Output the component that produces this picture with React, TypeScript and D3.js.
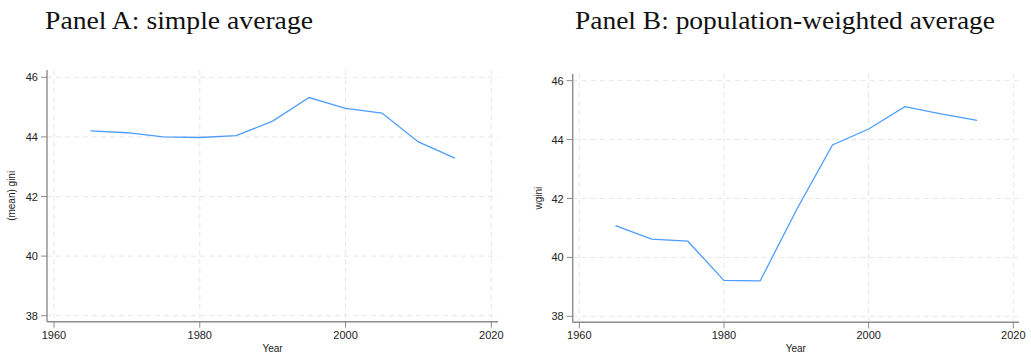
import { useEffect, useRef } from 'react';
import * as d3 from 'd3';

// データ
const years = [1965, 1970, 1975, 1980, 1985, 1990, 1995, 2000, 2005, 2010, 2015];
const meanGini = [44.2, 44.14, 44.0, 43.98, 44.04, 44.53, 45.32, 44.96, 44.8, 43.83, 43.29];
const wGini = [41.08, 40.62, 40.55, 39.22, 39.2, 41.6, 43.82, 44.36, 45.12, 44.87, 44.65];
const xTicks = [1960, 1980, 2000, 2020];
const yTicks = [38, 40, 42, 44, 46];

const panels = [
  {
    title: 'Panel A: simple average', titleX: 45, titleW: 268, titleY: 29,
    ylabel: '(mean) gini', values: meanGini,
    x0: 54, x1: 491.3, y0: 315.7, y1: 77.3, axisX: 47, axisY: 321.7, right: 498, top: 70, ylabX: 15,
  },
  {
    title: 'Panel B: population-weighted average', titleX: 575, titleW: 420, titleY: 29,
    ylabel: 'wgini', values: wGini,
    x0: 579.3, x1: 1013.3, y0: 316.3, y1: 80.7, axisX: 572.7, axisY: 322.3, right: 1019, top: 74, ylabX: 542,
  },
];

export default function App() {
  const svgRef = useRef<SVGSVGElement>(null);

  useEffect(() => {
    const svg = d3.select(svgRef.current).html('');
    const sans = '"Liberation Sans", Arial, sans-serif';

    panels.forEach(p => {
      const x = d3.scaleLinear().domain([1960, 2020]).range([p.x0, p.x1]);
      const y = d3.scaleLinear().domain([38, 46]).range([p.y0, p.y1]);
      const g = svg.append('g');

      // タイトル
      svg.append('text')
        .attr('x', p.titleX).attr('y', p.titleY)
        .attr('textLength', p.titleW).attr('lengthAdjust', 'spacingAndGlyphs')
        .attr('font-family', '"Liberation Serif", "Times New Roman", serif')
        .attr('font-size', 26).attr('fill', '#111')
        .text(p.title);

      // グリッド
      g.selectAll('.hg').data(yTicks).enter().append('line')
        .attr('x1', p.axisX).attr('x2', p.right)
        .attr('y1', d => y(d)).attr('y2', d => y(d))
        .attr('stroke', '#e6e6e6').attr('stroke-dasharray', '5,4').attr('stroke-width', 1);
      g.selectAll('.vg').data(xTicks).enter().append('line')
        .attr('x1', d => x(d)).attr('x2', d => x(d))
        .attr('y1', p.top).attr('y2', p.axisY)
        .attr('stroke', '#e6e6e6').attr('stroke-dasharray', '5,4').attr('stroke-width', 1);

      // 軸線
      g.append('line').attr('x1', p.axisX).attr('x2', p.axisX).attr('y1', p.top).attr('y2', p.axisY)
        .attr('stroke', '#8c8c8c').attr('stroke-width', 1.4);
      g.append('line').attr('x1', p.axisX).attr('x2', p.right).attr('y1', p.axisY).attr('y2', p.axisY)
        .attr('stroke', '#8c8c8c').attr('stroke-width', 1.4);

      // Y目盛り
      g.selectAll('.yt').data(yTicks).enter().append('line')
        .attr('x1', p.axisX - 6).attr('x2', p.axisX)
        .attr('y1', d => y(d)).attr('y2', d => y(d))
        .attr('stroke', '#8c8c8c').attr('stroke-width', 1);
      g.selectAll('.yl').data(yTicks).enter().append('text')
        .attr('x', p.axisX - 9).attr('y', d => y(d) + 4)
        .attr('text-anchor', 'end').attr('font-family', sans).attr('font-size', 11).attr('fill', '#222')
        .text(d => d);

      // X目盛り
      g.selectAll('.xt').data(xTicks).enter().append('line')
        .attr('x1', d => x(d)).attr('x2', d => x(d))
        .attr('y1', p.axisY).attr('y2', p.axisY + 6)
        .attr('stroke', '#8c8c8c').attr('stroke-width', 1);
      g.selectAll('.xl').data(xTicks).enter().append('text')
        .attr('x', d => x(d)).attr('y', p.axisY + 17)
        .attr('text-anchor', 'middle').attr('font-family', sans).attr('font-size', 11).attr('fill', '#222')
        .text(d => d);

      // 軸ラベル
      g.append('text')
        .attr('x', (p.axisX + p.right) / 2).attr('y', 352)
        .attr('text-anchor', 'middle').attr('font-family', sans).attr('font-size', 10).attr('fill', '#222')
        .text('Year');
      const yc = (p.top + p.axisY) / 2;
      g.append('text')
        .attr('transform', `translate(${p.ylabX},${yc}) rotate(-90)`)
        .attr('text-anchor', 'middle').attr('font-family', sans).attr('font-size', 10).attr('fill', '#222')
        .text(p.ylabel);

      // 折れ線
      const line = d3.line<number>().x((_, i) => x(years[i])).y(d => y(d));
      g.append('path').attr('d', line(p.values))
        .attr('fill', 'none').attr('stroke', '#4d9dff').attr('stroke-width', 1.3);
    });
  }, []);

  return (
    <svg ref={svgRef} width={1031} height={358}
      style={{ position: 'absolute', left: 0, top: 0, background: '#fff' }} />
  );
}
